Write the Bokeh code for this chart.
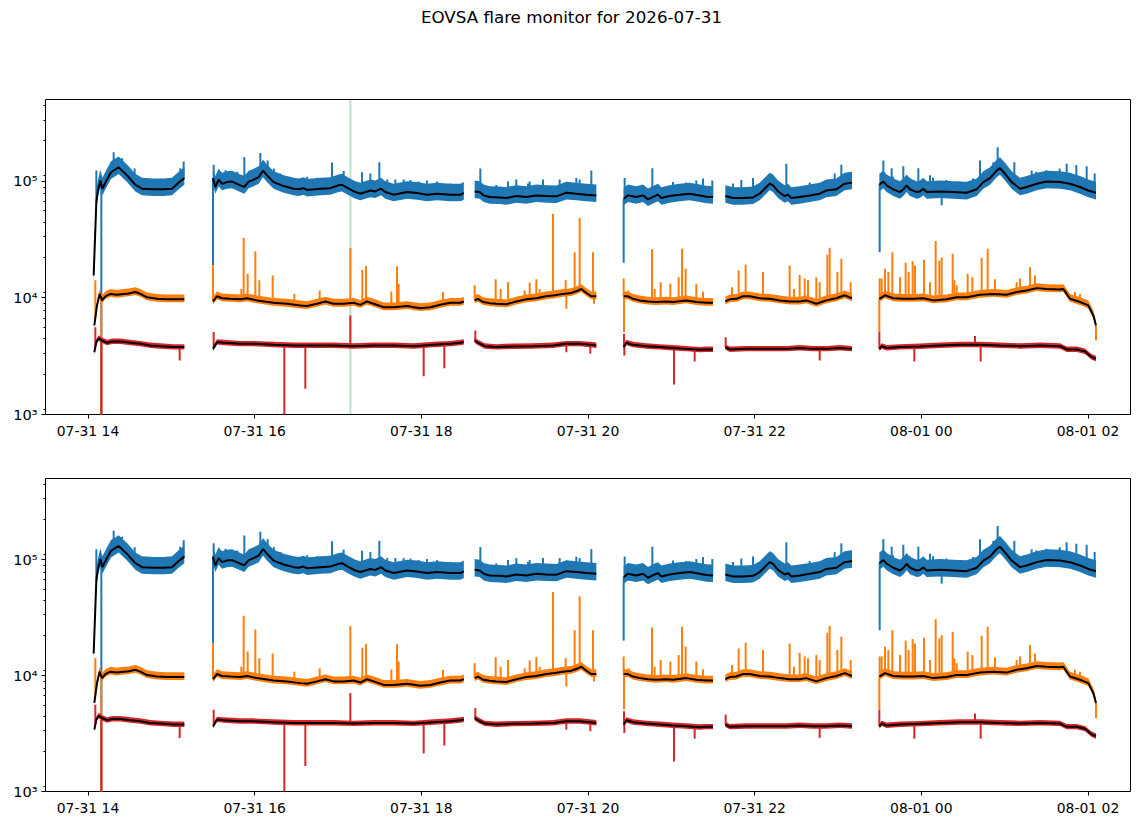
import numpy as np
import pandas as pd
from bokeh.plotting import figure
from bokeh.layouts import column
from bokeh.models import (Div, Range1d, FixedTicker, LogTicker, Span,
                          DatetimeTickFormatter, CustomJSTickFormatter)
from bokeh.embed import file_html
from bokeh.resources import INLINE

nan = np.nan
DAY0 = pd.Timestamp("2026-07-31")

# times are hours after 2026-07-31 00:00, NaN marks a gap between scans
blue_t = [14.068, 14.10, 14.116, 14.148, 14.172, 14.228, 14.276, 14.368, 14.468, 14.568, 14.648, 14.788, 14.908, 15.008, 15.088, 15.156, nan,
          15.50, 15.528, 15.568, 15.608, 15.668, 15.728, 15.828, 15.876, 15.928, 15.988, 16.048, 16.10, 16.148, 16.228, 16.348, 16.468,
          16.528, 16.588, 16.628, 16.788, 16.908, 17.008, 17.048, 17.128, 17.208, 17.268, 17.388, 17.448, 17.516, 17.568, 17.668, 17.828,
          17.948, 18.068, 18.188, 18.348, 18.468, 18.51, nan,
          18.64, 18.70, 18.748, 18.82, 18.94, 19.02, 19.14, 19.26, 19.38, 19.50, 19.62, 19.74, 19.86, 19.98, 20.10, nan,
          20.428, 20.48, 20.58, 20.66, 20.72, 20.80, 20.84, 20.88, 20.98, 21.10, 21.22, 21.34, 21.42, 21.50, nan,
          21.648, 21.74, 21.86, 21.98, 22.06, 22.12, 22.18, 22.22, 22.28, 22.36, 22.40, 22.44, 22.54, 22.66, 22.78, 22.86, 22.98, 23.08, 23.168, nan,
          23.496, 23.544, 23.584, 23.664, 23.744, 23.792, 23.824, 23.864, 23.944, 23.984, 24.024, 24.064, 24.224, 24.384, 24.544, 24.664,
          24.744, 24.824, 24.904, 24.944, 25.004, 25.084, 25.144, 25.184, 25.264, 25.384, 25.504, 25.664, 25.784, 25.904, 26.004, 26.096]
blue_v = [1.55e4, 6.6e4, 8.05e4, 1.01e5, 8.6e4, 1.03e5, 1.19e5, 1.31e5, 1.12e5, 9.3e4, 8.6e4, 8.5e4, 8.5e4, 8.6e4, 9.7e4, 1.06e5, nan,
          1.06e5, 8.9e4, 1.03e5, 9.5e4, 9.8e4, 9.9e4, 9.2e4, 8.9e4, 9.9e4, 1.03e5, 1.08e5, 1.23e5, 1.12e5, 9.8e4, 9.06e4, 8.6e4,
          8.5e4, 8.7e4, 8.4e4, 8.6e4, 8.7e4, 9.2e4, 9.3e4, 8.6e4, 8.05e4, 7.8e4, 8.3e4, 8.15e4, 8.6e4, 8.05e4, 7.65e4, 8.05e4,
          7.9e4, 7.65e4, 7.8e4, 7.65e4, 7.65e4, 7.9e4, nan,
          8.15e4, 8.05e4, 7.54e4, 7.3e4, 7.24e4, 7.15e4, 7.44e4, 7.3e4, 7.54e4, 7.44e4, 7.4e4, 7.94e4, 7.8e4, 7.65e4, 7.54e4, nan,
          7.06e4, 7.54e4, 7.3e4, 7.54e4, 6.97e4, 7.44e4, 7.65e4, 7.15e4, 7.44e4, 7.65e4, 7.8e4, 7.54e4, 7.35e4, 7.3e4, nan,
          7.44e4, 7.15e4, 7.15e4, 7.24e4, 7.8e4, 8.6e4, 9.5e4, 9.2e4, 8.15e4, 7.44e4, 7.65e4, 7.15e4, 7.3e4, 7.54e4, 7.8e4, 8.3e4, 8.5e4, 9.5e4, 9.7e4, nan,
          9.3e4, 9.9e4, 9.2e4, 8.5e4, 8.05e4, 8.6e4, 9.2e4, 8.5e4, 8.05e4, 8.15e4, 8.6e4, 8.05e4, 8.15e4, 8.05e4, 7.94e4, 8.5e4,
          9.8e4, 1.06e5, 1.23e5, 1.29e5, 1.155e5, 9.8e4, 9.06e4, 8.6e4, 8.9e4, 9.5e4, 9.9e4, 9.8e4, 9.5e4, 8.9e4, 8.3e4, 7.94e4]

orange_t = [14.076, 14.108, 14.14, 14.168, 14.208, 14.268, 14.348, 14.428, 14.488, 14.568, 14.628, 14.708, 14.828, 14.948, 15.068, 15.156, nan,
            15.50, 15.548, 15.608, 15.708, 15.828, 15.908, 16.028, 16.228, 16.388, 16.548, 16.628, 16.748, 16.848, 16.948, 17.068, 17.188,
            17.268, 17.348, 17.428, 17.548, 17.668, 17.828, 17.988, 18.108, 18.228, 18.348, 18.468, 18.51, nan,
            18.64, 18.68, 18.74, 18.82, 18.90, 19.02, 19.14, 19.26, 19.38, 19.50, 19.60, 19.70, 19.80, 19.88, 19.92, 19.98, 20.04, 20.10, nan,
            20.428, 20.48, 20.54, 20.62, 20.72, 20.82, 20.94, 21.02, 21.18, 21.30, 21.42, 21.50, nan,
            21.648, 21.70, 21.78, 21.86, 21.94, 22.06, 22.18, 22.30, 22.42, 22.54, 22.62, 22.74, 22.86, 22.98, 23.08, 23.168, nan,
            23.496, 23.564, 23.664, 23.784, 23.904, 24.024, 24.144, 24.304, 24.424, 24.544, 24.704, 24.864, 25.024, 25.144, 25.264, 25.384,
            25.504, 25.664, 25.704, 25.784, 25.904, 26.004, 26.064, 26.096]
orange_v = [5.8e3, 8.6e3, 1.08e4, 9.5e3, 1.03e4, 1.08e4, 1.06e4, 1.08e4, 1.09e4, 1.12e4, 1.08e4, 1.01e4, 9.8e3, 9.7e3, 9.7e3, 9.7e3, nan,
            9.3e3, 1.03e4, 9.9e3, 9.8e3, 9.7e3, 9.9e3, 9.5e3, 9.06e3, 8.9e3, 8.6e3, 8.5e3, 8.9e3, 9.3e3, 8.9e3, 8.9e3, 9.06e3,
            8.7e3, 9.3e3, 8.9e3, 8.3e3, 8.3e3, 8.5e3, 8.15e3, 8.3e3, 8.7e3, 9.06e3, 9.06e3, 9.3e3, nan,
            9.5e3, 9.8e3, 9.2e3, 9.0e3, 8.9e3, 8.8e3, 9.3e3, 9.7e3, 9.9e3, 1.03e4, 1.05e4, 1.08e4, 1.10e4, 1.155e4, 1.19e4, 1.10e4, 1.03e4, 1.03e4, nan,
            1.03e4, 1.03e4, 9.8e3, 9.5e3, 9.3e3, 9.2e3, 9.3e3, 9.2e3, 9.5e3, 9.2e3, 9.06e3, 9.06e3, nan,
            9.3e3, 9.7e3, 9.8e3, 1.03e4, 1.03e4, 9.9e3, 9.8e3, 9.5e3, 9.3e3, 9.3e3, 9.5e3, 8.9e3, 9.5e3, 9.9e3, 1.05e4, 9.9e3, nan,
            9.8e3, 1.05e4, 9.9e3, 9.8e3, 9.8e3, 9.9e3, 9.5e3, 9.7e3, 1.01e4, 1.01e4, 1.06e4, 1.08e4, 1.06e4, 1.12e4, 1.155e4, 1.21e4,
            1.19e4, 1.18e4, 1.19e4, 9.8e3, 9.2e3, 8.6e3, 7.06e3, 5.8e3]

red_t = [14.076, 14.10, 14.128, 14.168, 14.228, 14.288, 14.388, 14.508, 14.628, 14.748, 14.868, 15.028, 15.156, nan,
         15.50, 15.548, 15.628, 15.828, 15.988, 16.228, 16.468, 16.708, 16.948, 17.188, 17.428, 17.668, 17.908, 18.148, 18.348, 18.468, 18.51, nan,
         18.64, 18.68, 18.76, 18.90, 19.10, 19.34, 19.58, 19.74, 19.90, 20.02, 20.10, nan,
         20.428, 20.46, 20.54, 20.70, 20.86, 21.02, 21.18, 21.34, 21.42, 21.50, nan,
         21.648, 21.70, 21.90, 22.14, 22.38, 22.54, 22.70, 22.86, 23.02, 23.168, nan,
         23.496, 23.524, 23.584, 23.744, 23.984, 24.224, 24.464, 24.704, 24.944, 25.184, 25.424, 25.664, 25.744, 25.864, 25.964, 26.044, 26.096]
red_v = [3.42e3, 4.17e3, 4.5e3, 4.3e3, 4.12e3, 4.22e3, 4.22e3, 4.12e3, 4.03e3, 3.9e3, 3.85e3, 3.78e3, 3.78e3, nan,
         3.65e3, 4.17e3, 4.12e3, 4.03e3, 4.03e3, 3.96e3, 3.9e3, 3.9e3, 3.9e3, 3.85e3, 3.9e3, 3.9e3, 3.85e3, 3.96e3, 4.03e3, 4.12e3, 4.17e3, nan,
         4.3e3, 4.12e3, 3.85e3, 3.78e3, 3.83e3, 3.85e3, 3.9e3, 4.03e3, 4.03e3, 3.96e3, 3.9e3, nan,
         3.78e3, 4.12e3, 3.96e3, 3.85e3, 3.78e3, 3.71e3, 3.65e3, 3.58e3, 3.61e3, 3.61e3, nan,
         3.78e3, 3.61e3, 3.65e3, 3.65e3, 3.65e3, 3.71e3, 3.65e3, 3.65e3, 3.71e3, 3.65e3, nan,
         3.65e3, 3.85e3, 3.71e3, 3.78e3, 3.83e3, 3.9e3, 3.96e3, 3.96e3, 3.9e3, 3.85e3, 3.9e3, 3.85e3, 3.61e3, 3.61e3, 3.47e3, 3.1e3, 3.0e3]

# single-sample excursions (time, value) in the raw data
blue_spk_t = [14.10, 14.16, 14.308, 14.408, 14.56, 14.63, 14.83, 14.95, 15.108, 15.148, 15.50, 15.508, 15.65, 15.79, 15.876,
              16.068, 16.156, 16.23, 16.31, 16.47, 16.63, 16.75, 16.928, 17.068, 17.288, 17.388, 17.496, 17.59, 17.688, 17.788,
              17.87, 17.968, 18.068, 18.19, 18.35, 18.708, 18.90, 19.04, 19.14, 19.28, 19.30, 19.46, 19.66, 19.74, 19.86, 19.90,
              20.04, 20.428, 20.44, 20.772, 21.02, 21.18, 21.30, 21.38, 21.492, 21.74, 21.84, 21.98, 22.38, 22.66, 22.86, 22.96,
              23.04, 23.14, 23.50, 23.544, 23.644, 23.66, 23.784, 23.86, 23.964, 24.104, 24.14, 24.244, 24.30, 24.46, 24.62,
              24.704, 24.864, 24.916, 25.116, 25.324, 25.38, 25.50, 25.66, 25.744, 25.86, 25.984, 26.08]
blue_spk_v = [1.23e5, 100, 1.77e5, 1.57e5, 1.28e5, 1.05e5, 9.9e4, 1.0e5, 1.29e5, 1.47e5, 1.9e4, 1.38e5, 1.24e5, 1.2e5, 1.61e5,
              1.74e5, 1.50e5, 1.28e5, 1.16e5, 1.05e5, 1.09e5, 1.07e5, 1.44e5, 1.22e5, 1.19e5, 1.16e5, 1.45e5, 1.03e5, 1.03e5, 1.03e5,
              1.02e5, 9.9e4, 1.01e5, 9.9e4, 9.55e4, 1.28e5, 9.25e4, 9.9e4, 1.03e5, 9.55e4, 9.9e4, 1.03e5, 1.03e5, 9.55e4, 1.06e5, 1.03e5,
              1.23e5, 2.0e4, 1.06e5, 1.29e5, 9.8e4, 9.7e4, 1.01e5, 1.05e5, 1.01e5, 9.55e4, 1.02e5, 1.06e5, 1.41e5, 9.7e4, 1.02e5, 1.16e5,
              1.38e5, 1.19e5, 2.46e4, 1.5e5, 1.29e5, 1.09e5, 1.34e5, 1.07e5, 1.29e5, 1.12e5, 1.07e5, 6.2e4, 1.02e5, 9.9e4, 1.05e5,
              1.5e5, 1.45e5, 1.95e5, 1.45e5, 1.23e5, 1.2e5, 1.24e5, 1.28e5, 1.41e5, 1.37e5, 1.34e5, 1.16e5]

orange_spk_t = [14.088, 14.16, 15.50, 15.84, 15.868, 15.916, 16.008, 16.056, 16.216, 16.476, 16.78, 17.148, 17.292, 17.336, 17.64,
                17.708, 17.728, 18.26, 18.64, 18.892, 18.952, 19.04, 19.24, 19.30, 19.38, 19.42, 19.58, 19.732, 19.74, 19.84,
                19.90, 20.06, 20.072, 20.428, 20.432, 20.488, 20.768, 20.80, 20.872, 20.988, 21.088, 21.128, 21.172, 21.30, 21.38,
                21.728, 21.808, 21.892, 22.10, 22.42, 22.472, 22.54, 22.60, 22.64, 22.74, 22.78, 22.872, 22.90, 22.992, 23.04,
                23.152, 23.496, 23.50, 23.524, 23.564, 23.604, 23.652, 23.744, 23.812, 23.848, 23.896, 23.924, 24.032, 24.104,
                24.172, 24.216, 24.244, 24.376, 24.396, 24.424, 24.556, 24.612, 24.724, 24.796, 24.884, 25.144, 25.184, 25.304,
                25.364, 25.844, 25.904, 26.096]
orange_spk_v = [1.41e4, 100, 1.9e4, 1.19e4, 3.27e4, 1.61e4, 2.50e4, 1.41e4, 1.55e4, 1.08e4, 1.155e4, 2.67e4, 1.74e4, 1.87e4, 1.13e4,
                1.86e4, 1.32e4, 1.12e4, 1.28e4, 1.44e4, 1.19e4, 1.36e4, 1.155e4, 1.35e4, 1.44e4, 1.19e4, 5.25e4, 1.41e4, 8.06e3, 2.46e4,
                4.82e4, 2.46e4, 8.9e3, 1.46e4, 5.1e3, 1.155e4, 2.6e4, 1.19e4, 1.36e4, 1.32e4, 1.5e4, 2.63e4, 1.77e4, 1.32e4, 1.13e4,
                1.23e4, 1.71e4, 1.92e4, 1.66e4, 1.89e4, 1.19e4, 1.57e4, 1.46e4, 1.41e4, 1.5e4, 1.36e4, 2.34e4, 2.68e4, 1.66e4, 2.16e4,
                1.36e4, 5.1e3, 1.46e4, 1.46e4, 1.77e4, 1.66e4, 2.46e4, 1.5e4, 2.0e4, 1.66e4, 2.06e4, 1.89e4, 2.12e4, 1.36e4,
                3.06e4, 2.09e4, 2.23e4, 2.38e4, 1.41e4, 1.28e4, 1.61e4, 1.5e4, 2.2e4, 2.63e4, 1.44e4, 1.36e4, 1.46e4, 1.83e4,
                1.55e4, 1.12e4, 1.08e4, 4.3e3]

red_spk_t = [14.088, 14.16, 15.10, 15.508, 16.356, 16.608, 17.148, 18.028, 18.276, 18.648, 19.74, 20.028, 20.432, 20.436,
             21.032, 21.28, 21.652, 22.78, 23.496, 23.916, 24.644, 24.712]
red_spk_v = [5.6e3, 100, 2.9e3, 5.08e3, 500, 1.66e3, 7.06e3, 2.13e3, 2.49e3, 5.25e3, 3.42e3, 3.31e3, 4.91e3, 3.2e3,
             1.81e3, 2.85e3, 4.6e3, 2.9e3, 5.08e3, 2.85e3, 4.7e3, 2.85e3]

flare_t = 17.149            # marked time in the upper panel
tick_hours = [14, 16, 18, 20, 22, 24, 26]
x_hours = (13.49, 26.51)
y_lim = (1e3, 5e5)

BLUE, ORANGE, RED, GREEN = "#1f77b4", "#ff7f0e", "#d62728", "#2ca02c"
FONT = "DejaVu Sans"


def ms(hours):
    return DAY0.value / 1e6 + np.asarray(hours, float) * 3600e3


def pieces(ts, vs):
    out, cur_t, cur_v = [], [], []
    for t, v in zip(ts, vs):
        if np.isnan(v):
            out.append((cur_t, cur_v))
            cur_t, cur_v = [], []
        else:
            cur_t.append(t)
            cur_v.append(v)
    out.append((cur_t, cur_v))
    return out


def base_at(ts, vs, st):
    t = np.asarray(ts, float)
    v = np.asarray(vs, float)
    ok = np.isfinite(v)
    return 10 ** np.interp(st, t[ok], np.log10(v[ok]))


sup_js = """
const s = {"0":"\u2070","1":"\u00b9","2":"\u00b2","3":"\u00b3","4":"\u2074","5":"\u2075","6":"\u2076","7":"\u2077","8":"\u2078","9":"\u2079","-":"\u207b"};
const e = Math.round(Math.log10(tick));
return "10" + String(e).split("").map(c => s[c]).join("");
"""


def panel(height, top, bottom, mark):
    p = figure(width=1127, height=height, output_backend="svg", toolbar_location=None,
               x_axis_type="datetime", y_axis_type="log",
               x_range=Range1d(*ms(x_hours)), y_range=Range1d(*y_lim),
               min_border_left=37, min_border_right=5, min_border_top=top, min_border_bottom=bottom)
    p.xgrid.grid_line_color = None
    p.ygrid.grid_line_color = None
    p.outline_line_color = "black"
    p.outline_line_alpha = 1
    p.background_fill_color = "white"
    p.border_fill_color = "white"

    if mark:
        p.add_layout(Span(location=float(ms(flare_t)), dimension="height", line_color=GREEN,
                          line_alpha=0.3, line_width=2, level="underlay"))

    # raw data: a noise band round the running mean plus its single spikes
    for ts, vs, spt, spv, col, lo, hi in [(blue_t, blue_v, blue_spk_t, blue_spk_v, BLUE, 1.14, 1.24),
                                          (orange_t, orange_v, orange_spk_t, orange_spk_v, ORANGE, 1.06, 1.1),
                                          (red_t, red_v, red_spk_t, red_spk_v, RED, 1.05, 1.06)]:
        for pt, pv in pieces(ts, vs):
            pv = np.asarray(pv)
            p.varea(x=ms(pt), y1=pv / lo, y2=pv * hi, fill_color=col)
        x = ms(spt)
        p.segment(x0=x, x1=x, y0=base_at(ts, vs, spt), y1=spv, line_color=col, line_width=2)

    for ts, vs in [(blue_t, blue_v), (orange_t, orange_v), (red_t, red_v)]:
        p.line(ms(ts), vs, line_color="black", line_width=2)

    xa, ya = p.xaxis[0], p.yaxis[0]
    xa.ticker = FixedTicker(ticks=list(ms(tick_hours)))
    xa.formatter = DatetimeTickFormatter(hours="%m-%d %H", days="%m-%d %H", minutes="%m-%d %H", hourmin="%m-%d %H")
    ya.ticker = LogTicker(num_minor_ticks=9)
    ya.formatter = CustomJSTickFormatter(code=sup_js)
    for a in (xa, ya):
        a.axis_line_color = None
        a.major_tick_in = 0
        a.major_tick_out = 4
        a.minor_tick_in = 0
        a.minor_tick_out = 2
        a.major_tick_line_color = "black"
        a.minor_tick_line_color = "black"
        a.major_label_text_font = FONT
        a.major_label_text_font_size = "13.9px"
        a.major_label_text_color = "black"
        a.major_label_standoff = 4
    xa.minor_tick_line_color = None
    ya.major_label_text_font_size = "14.5px"
    return p


title = Div(text="EOVSA flare monitor for 2026-07-31", width=1127, height=30, margin=(0, 0, 0, 0),
            styles={"font-family": FONT, "font-size": "16.7px", "color": "black",
                    "text-align": "center", "line-height": "18px", "width": "1127px"})

p1 = panel(408, 61, 32, True)
p2 = panel(372, 32, 26, False)

layout = column(title, p1, p2, spacing=0, margin=(8, 0, 0, 8))
open("out.html", "w").write(file_html(layout, INLINE))
